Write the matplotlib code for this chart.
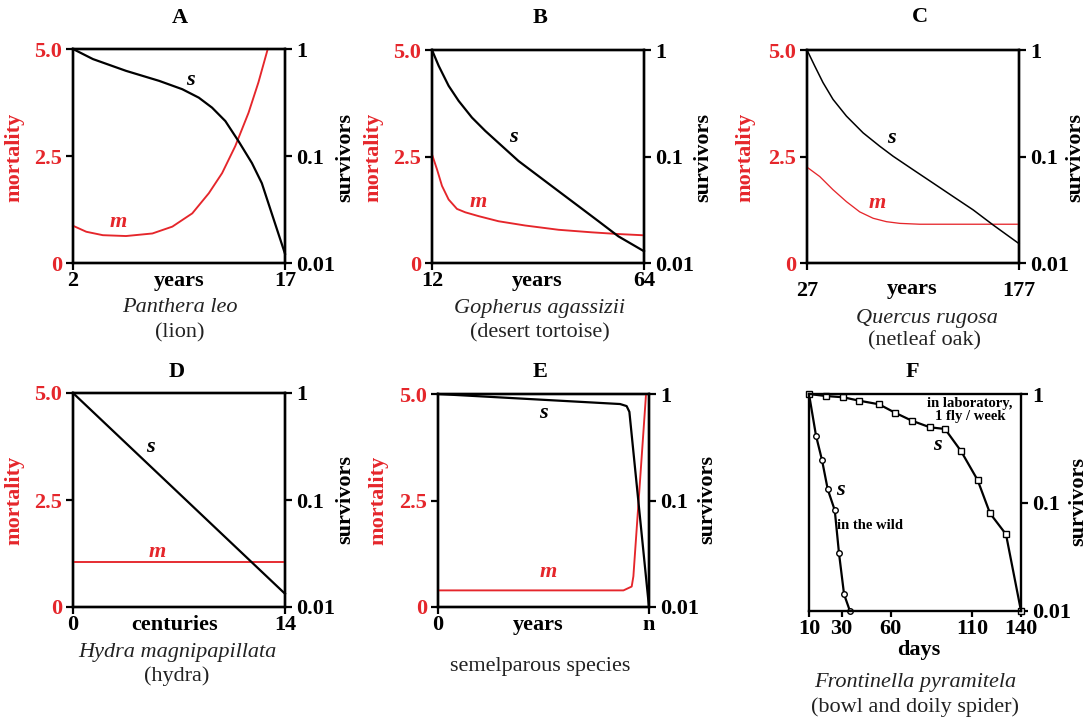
import matplotlib
matplotlib.use('Agg')
import matplotlib.pyplot as plt
from matplotlib.ticker import NullLocator

# colours / figure size in pixels
RED = '#e5262b'
W, H = 1088, 721
FS = 16

plt.rcParams['font.family'] = ['Liberation Serif', 'DejaVu Serif']
plt.rcParams['font.size'] = FS

# ---- data ----
# A: Panthera leo (lion)
lion_s_years = [2, 3.41, 5.75, 8.09, 9.73, 10.9, 11.84, 12.78, 13.72, 14.66, 15.36, 16.06, 17]
lion_s = [1.0, 0.805, 0.625, 0.504, 0.421, 0.351, 0.283, 0.212, 0.137, 0.0859, 0.0557, 0.0291, 0.0122]
lion_m_years = [2, 2.94, 4.11, 5.75, 7.62, 9.03, 10.44, 11.61, 12.55, 13.48, 14.42, 15.12, 15.78]
lion_m = [0.87, 0.73, 0.65, 0.63, 0.69, 0.85, 1.16, 1.63, 2.10, 2.73, 3.51, 4.22, 5.0]

# B: Gopherus agassizii (desert tortoise)
tortoise_s_years = [12, 13.63, 16.08, 18.53, 21.8, 25.06, 29.14, 33.22, 38.12, 43.02,
                    47.92, 52.82, 57.71, 64]
tortoise_s = [1.0, 0.711, 0.461, 0.333, 0.232, 0.174, 0.1256, 0.0907, 0.0655, 0.0473,
              0.0342, 0.0247, 0.0178, 0.0129]
tortoise_m_years = [12, 13.22, 14.45, 16.08, 18.12, 20.16, 23.43, 28.33, 34.86, 43.02,
                    51.18, 57.71, 64]
tortoise_m = [2.55, 2.20, 1.81, 1.49, 1.27, 1.19, 1.10, 0.98, 0.88, 0.78, 0.72, 0.68, 0.65]

# C: Quercus rugosa (netleaf oak)
oak_s_years = [27, 32.4, 38.3, 45.4, 54.9, 66.7, 78.5, 88.0, 102.1, 116.3, 130.5, 144.6,
               158.8, 177]
oak_s = [1.0, 0.711, 0.495, 0.344, 0.2395, 0.1667, 0.1248, 0.1004, 0.0751, 0.0562, 0.042,
         0.0315, 0.0227, 0.0152]
oak_m_years = [27, 36.0, 45.4, 54.9, 64.3, 73.8, 83.2, 92.7, 106.8, 177]
oak_m = [2.25, 2.03, 1.72, 1.44, 1.20, 1.05, 0.97, 0.93, 0.91, 0.91]

# D: Hydra magnipapillata
hydra_s_centuries = [0, 14]
hydra_s = [1.0, 0.0133]
hydra_m_centuries = [0, 14]
hydra_m = [1.05, 1.05]

# E: semelparous species (x as fraction of lifespan n)
semel_s_x = [0, 0.863, 0.894, 0.907, 1.0]
semel_s = [1.0, 0.805, 0.77, 0.68, 0.01]
semel_m_x = [0, 0.879, 0.918, 0.926, 0.986]
semel_m = [0.39, 0.39, 0.48, 0.72, 5.0]

# F: Frontinella pyramitela (bowl and doily spider)
wild_days = [10, 14.3, 18.0, 21.5, 25.8, 28.4, 31.5, 35.1]
wild_s = [1.0, 0.413, 0.245, 0.132, 0.0848, 0.034, 0.01425, 0.01]
lab_days = [10, 20.4, 31.0, 40.7, 52.9, 62.7, 73.0, 84.2, 93.4, 103.2, 113.4, 121.0, 130.8, 140]
lab_s = [1.0, 0.958, 0.933, 0.868, 0.804, 0.673, 0.568, 0.493, 0.476, 0.298, 0.161, 0.0795,
         0.0509, 0.01]

mort_ticks = [0, 2.5, 5.0]
mort_labels = ['0', '2.5', '5.0']
surv_ticks = [0.01, 0.1, 1]
surv_labels = ['0.01', '0.1', '1']


def fx(x):
    return x / W


def fy(y):
    return 1 - y / H


def add_axes_px(fig, left, top, right, bottom):
    """Add axes from pixel box (origin top-left)."""
    return fig.add_axes([fx(left), fy(bottom), (right - left) / W, (bottom - top) / H])


def ftext(fig, x, y, s, **kw):
    kw.setdefault('ha', 'center')
    kw.setdefault('va', 'center')
    fig.text(fx(x), fy(y), s, **kw)


def style_spines(ax):
    for sp in ax.spines.values():
        sp.set_linewidth(1.7)
        sp.set_color('black')


def setup_survivors(ax2):
    ax2.set_yscale('log')
    ax2.set_ylim(0.01, 1)
    ax2.set_yticks(surv_ticks, surv_labels, fontweight='bold')
    ax2.yaxis.set_minor_locator(NullLocator())
    ax2.tick_params(axis='y', direction='out', length=5, width=1.6, pad=3)
    style_spines(ax2)


def mortality_panel(fig, box, xlim, xticks, xticklabels, s_x, s_y, m_x, m_y, lw=1.6):
    ax = add_axes_px(fig, *box)
    ax.set_xlim(*xlim)
    ax.set_ylim(0, 5)
    ax.set_xticks(xticks, xticklabels, fontweight='bold')
    ax.set_yticks(mort_ticks, mort_labels, fontweight='bold')
    ax.tick_params(axis='y', labelcolor=RED, direction='out', length=5, width=1.6, pad=3)
    ax.tick_params(axis='x', direction='out', length=5, width=1.6, pad=1)
    ax.plot(m_x, m_y, color=RED, lw=lw * 0.85, clip_on=False, zorder=3)
    style_spines(ax)

    ax2 = ax.twinx()
    setup_survivors(ax2)
    ax2.plot(s_x, s_y, color='black', lw=lw, clip_on=False)
    return ax, ax2


def curve_labels(ax, s_pos, m_pos):
    ax.text(*s_pos, 's', transform=ax.transAxes, ha='center', va='center',
            fontstyle='italic', fontweight='bold', fontsize=FS, color='black')
    ax.text(*m_pos, 'm', transform=ax.transAxes, ha='center', va='center',
            fontstyle='italic', fontweight='bold', fontsize=FS, color=RED)


fig = plt.figure(figsize=(W / 100, H / 100), dpi=100)

# ---------------- A ----------------
ax, ax2 = mortality_panel(fig, (73, 49, 285, 263), (2, 17), [2, 17], ['2', '17'],
                          lion_s_years, lion_s, lion_m_years, lion_m)
curve_labels(ax, (0.552, 0.855), (0.212, 0.19))

# ---------------- B ----------------
ax, ax2 = mortality_panel(fig, (432, 50, 644, 263), (12, 64), [12, 64], ['12', '64'],
                          tortoise_s_years, tortoise_s, tortoise_m_years, tortoise_m)
curve_labels(ax, (0.382, 0.59), (0.217, 0.286))

# ---------------- C ----------------
ax, ax2 = mortality_panel(fig, (807, 50, 1019, 263), (27, 177), [27, 177], ['27', '177'],
                          oak_s_years, oak_s, oak_m_years, oak_m, lw=1.1)
ax.tick_params(axis='x', pad=8)
curve_labels(ax, (0.40, 0.587), (0.329, 0.28))

# ---------------- D ----------------
ax, ax2 = mortality_panel(fig, (73, 393, 285, 607), (0, 14), [0, 14], ['0', '14'],
                          hydra_s_centuries, hydra_s, hydra_m_centuries, hydra_m)
curve_labels(ax, (0.363, 0.748), (0.396, 0.257))

# ---------------- E ----------------
ax, ax2 = mortality_panel(fig, (438, 394, 649, 607), (0, 1), [0, 1], ['0', 'n'],
                          semel_s_x, semel_s, semel_m_x, semel_m)
curve_labels(ax, (0.498, 0.91), (0.52, 0.164))

# ---------------- F ----------------
ax = add_axes_px(fig, 809, 394, 1021, 611)
ax.set_xlim(10, 140)
ax.set_xticks([10, 30, 60, 110, 140], ['10', '30', '60', '110', '140'], fontweight='bold')
ax.tick_params(axis='x', direction='out', length=4, width=1.6, pad=2)
setup_survivors(ax)
ax.yaxis.tick_right()
ax.plot(wild_days, wild_s, color='black', lw=1.6, marker='o', ms=4,
        mfc='white', mec='black', mew=1.0, clip_on=False)
ax.plot(lab_days, lab_s, color='black', lw=1.6, marker='s', ms=4,
        mfc='white', mec='black', mew=1.0, clip_on=False)
for pos in [(0.604, 0.765), (0.146, 0.558)]:
    ax.text(*pos, 's', transform=ax.transAxes, ha='center', va='center',
            fontstyle='italic', fontweight='bold', fontsize=FS)
ax.text(0.288, 0.392, 'in the wild', transform=ax.transAxes, ha='center', va='center',
        fontweight='bold', fontsize=10.5)
ax.text(0.76, 0.924, 'in laboratory,\n1 fly / week', transform=ax.transAxes,
        ha='center', va='center', fontweight='bold', fontsize=10.5, linespacing=1.0)

# ---------------- panel letters, axis names, species ----------------
for letter, x, y in [('A', 180, 18), ('B', 540, 18), ('C', 920, 17),
                     ('D', 177, 372), ('E', 540, 372), ('F', 912, 372)]:
    ftext(fig, x, y, letter, fontweight='bold', fontsize=FS)

for x, y in [(14, 157), (373, 157), (745, 157), (14, 500), (378, 500)]:
    ftext(fig, x, y, 'mortality', rotation=90, color=RED, fontweight='bold', fontsize=FS)
for x, y in [(345, 157), (703, 157), (1075, 157), (345, 500), (707, 500), (1078, 502)]:
    ftext(fig, x, y, 'survivors', rotation=90, fontweight='bold', fontsize=FS)

for x, y, name in [(179, 281, 'years'), (537, 281, 'years'), (912, 289, 'years'),
                   (175, 625, 'centuries'), (538, 625, 'years'), (919, 650, 'days')]:
    ftext(fig, x, y, name, fontweight='bold', fontsize=FS)

for x, y, name in [(180, 308, 'Panthera leo'), (540, 308, 'Gopherus agassizii'),
                   (927, 318, 'Quercus rugosa'), (177, 652, 'Hydra magnipapillata'),
                   (915, 683, 'Frontinella pyramitela')]:
    ftext(fig, x, y, name, fontstyle='italic', fontsize=FS, color='#222222')

for x, y, name in [(180, 333, '(lion)'), (540, 333, '(desert tortoise)'),
                   (925, 341, '(netleaf oak)'), (177, 676, '(hydra)'),
                   (540, 666, 'semelparous species'), (915, 707, '(bowl and doily spider)')]:
    ftext(fig, x, y, name, fontsize=FS, color='#222222')

fig.savefig('out.png', dpi=100)
